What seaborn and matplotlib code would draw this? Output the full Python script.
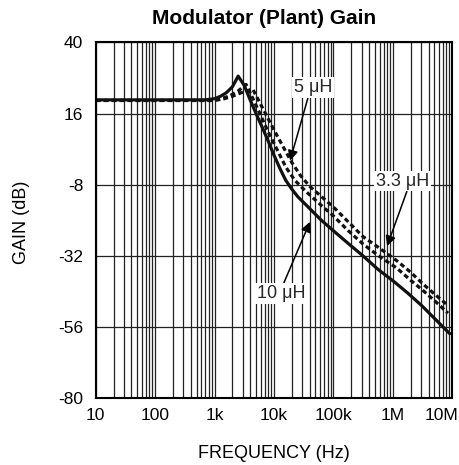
import pandas as pd
import numpy as np
import matplotlib
matplotlib.use('Agg')
import matplotlib.pyplot as plt
from matplotlib.ticker import FixedLocator, LogLocator, NullFormatter
from matplotlib.transforms import ScaledTranslation
import seaborn as sns

sns.set_theme(style='white')
plt.rcParams['font.family'] = ['Liberation Sans', 'DejaVu Sans']
plt.rcParams['axes.unicode_minus'] = False

# Dados (frequência em Hz, ganho em dB)
freq_10uh = [10, 100, 700, 1000, 1260, 1580, 2000, 2500, 3160, 4000, 5000, 6300, 7900,
             10000, 12600, 15800, 20000, 25100, 35500, 63000, 100000, 178000, 316000,
             562000, 1100000, 1780000, 3090000, 5000000, 9100000]
gain_10uh = [20.6, 20.6, 20.6, 21.0, 21.8, 23.0, 25.0, 28.6, 25.5, 20.5, 16.0, 11.5, 7.0,
             2.0, -2.5, -6.5, -9.5, -12.0, -15.0, -20.0, -23.5, -27.8, -32.0,
             -36.5, -41.0, -44.5, -48.8, -53.0, -58.2]

freq_5uh = [10, 100, 900, 1260, 1780, 2500, 3400, 4200, 5800, 7900, 11200, 15800, 22400,
            35500, 63000, 100000, 178000, 316000, 562000, 1150000, 2000000, 3160000,
            5000000, 8500000]
gain_5uh = [20.4, 20.4, 20.4, 20.9, 21.9, 23.6, 25.8, 22.0, 16.0, 10.0, 4.0, -2.0, -6.5,
            -10.5, -15.0, -18.5, -23.5, -28.0, -31.8, -36.0, -40.2, -43.5,
            -47.0, -51.3]

freq_3uh3 = [10, 100, 1000, 1410, 2000, 2800, 4400, 5500, 7200, 10000, 14100, 20000, 28200,
             39800, 63000, 100000, 178000, 316000, 562000, 1150000, 2000000, 3160000,
             5000000, 8500000]
gain_3uh3 = [20.4, 20.4, 20.4, 20.9, 21.8, 23.0, 24.2, 20.5, 16.0, 10.5, 5.0, -0.5, -5.0,
             -8.5, -12.0, -15.5, -20.5, -25.5, -29.0, -33.5, -37.5, -41.3,
             -44.8, -48.7]

series = ['10 μH', '5 μH', '3.3 μH']
x_ticks = [10, 100, 1e3, 1e4, 1e5, 1e6, 1e7]
x_labels = ['10', '100', '1k', '10k', '100k', '1M', '10M']
y_ticks = [-80, -56, -32, -8, 16, 40]

df = pd.concat([
    pd.DataFrame({'freq': freq_10uh, 'gain': gain_10uh, 'L': series[0]}),
    pd.DataFrame({'freq': freq_5uh, 'gain': gain_5uh, 'L': series[1]}),
    pd.DataFrame({'freq': freq_3uh3, 'gain': gain_3uh3, 'L': series[2]}),
])

fig = plt.figure(figsize=(4.6, 4.65), dpi=100)
ax = fig.add_axes([0.208, 0.1434, 0.775, 0.7656])

sns.lineplot(data=df, x='freq', y='gain', hue='L', style='L',
             palette={s: '#111111' for s in series},
             dashes={'10 μH': '', '5 μH': (1.5, 1.0), '3.3 μH': (1.5, 1.0)},
             linewidth=2.3, estimator=None, legend=False, ax=ax)

ax.set_xscale('log')
ax.set_xlim(10, 1e7)
ax.set_ylim(-80, 40)
ax.xaxis.set_major_locator(FixedLocator(x_ticks))
ax.set_xticklabels(x_labels)
ax.xaxis.set_minor_locator(LogLocator(base=10, subs=range(2, 10), numticks=20))
ax.xaxis.set_minor_formatter(NullFormatter())
ax.set_yticks(y_ticks)

# Grade: verticais em todas as divisões logarítmicas, horizontais só nas principais
ax.grid(which='both', axis='x', color='#222222', linewidth=0.9)
ax.grid(which='major', axis='y', color='#222222', linewidth=0.9)
ax.set_axisbelow(True)
ax.tick_params(axis='both', which='both', length=0, labelsize=12.5, colors='black')
ax.tick_params(axis='x', pad=7)
ax.tick_params(axis='y', pad=9)
for sp in ax.spines.values():
    sp.set_color('black')
    sp.set_linewidth(1.5)

# "10M" fica encostado na borda direita, como no original
last = ax.get_xticklabels()[-1]
last.set_transform(last.get_transform() + ScaledTranslation(-11 / 100, 0, fig.dpi_scale_trans))

ax.set_xlabel('FREQUENCY (Hz)', fontsize=13, color='black', va='center')
ax.xaxis.set_label_coords(0.5, -0.154)
ax.set_ylabel('GAIN (dB)', fontsize=13, color='black', va='center')
ax.yaxis.set_label_coords(-0.207, 0.494)

fig.text(264 / 460, 1 - 19 / 465, 'Modulator (Plant) Gain', ha='center', va='center',
         fontsize=15, fontweight='bold', color='black')

box = dict(boxstyle='square,pad=0.1', fc='white', ec='none')
arrow = dict(arrowstyle='-|>', color='black', lw=1.1, mutation_scale=15, shrinkA=0, shrinkB=0)
ax.annotate('5 μH', xy=(18700, 0.1), xytext=(45500, 24.7), fontsize=13,
            ha='center', va='center', bbox=box, arrowprops=dict(arrow, relpos=(0.38, 0)))
ax.annotate('3.3 μH', xy=(802000, -28.7), xytext=(1440000, -6.8), fontsize=13,
            ha='center', va='center', bbox=box, arrowprops=dict(arrow, relpos=(0.6, 0)))
ax.annotate('10 μH', xy=(40500, -20.5), xytext=(13200, -44.6), fontsize=13,
            ha='center', va='center', bbox=box, arrowprops=dict(arrow, relpos=(0.54, 1)))

fig.savefig('out.png', dpi=100)
plt.close()
